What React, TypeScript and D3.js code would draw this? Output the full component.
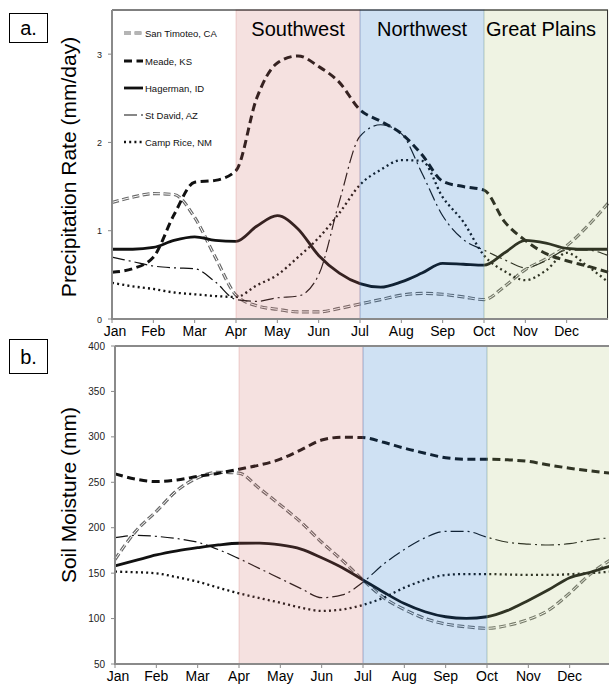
import React from 'react';
import * as d3 from 'd3';

const monthLabels = ['Jan', 'Feb', 'Mar', 'Apr', 'May', 'Jun', 'Jul', 'Aug', 'Sep', 'Oct', 'Nov', 'Dec'];
const monthPos = [0, 0.5, 1, 1.5, 2, 2.5, 3, 3.5, 4, 4.5, 5, 5.5, 6, 6.5, 7, 7.5, 8, 8.5, 9, 9.5, 10, 10.5, 11, 11.5, 12];

const seriesNames = ['San Timoteo, CA', 'Meade, KS', 'Hagerman, ID', 'St David, AZ', 'Camp Rice, NM'];

const precipSanTimoteo = [1.32, 1.38, 1.42, 1.41, 1.15, 0.7, 0.27, 0.15, 0.11, 0.08, 0.08, 0.12, 0.17, 0.22, 0.27, 0.29, 0.28, 0.25, 0.22, 0.37, 0.56, 0.68, 0.83, 1.05, 1.31];
const precipMeade = [0.53, 0.57, 0.7, 1.18, 1.55, 1.57, 1.68, 2.5, 2.9, 2.98, 2.86, 2.68, 2.37, 2.24, 2.1, 1.86, 1.56, 1.5, 1.46, 1.1, 0.89, 0.74, 0.66, 0.6, 0.53];
const precipHagerman = [0.79, 0.79, 0.81, 0.89, 0.93, 0.89, 0.88, 1.05, 1.17, 1.02, 0.72, 0.52, 0.4, 0.36, 0.42, 0.52, 0.63, 0.62, 0.61, 0.75, 0.89, 0.86, 0.8, 0.79, 0.79];
const precipStDavid = [0.7, 0.65, 0.6, 0.58, 0.57, 0.42, 0.22, 0.2, 0.24, 0.26, 0.5, 1.33, 2.07, 2.2, 2.1, 1.65, 1.17, 0.9, 0.78, 0.67, 0.58, 0.66, 0.78, 0.78, 0.72];
const precipCampRice = [0.41, 0.37, 0.34, 0.3, 0.28, 0.26, 0.25, 0.38, 0.5, 0.7, 0.92, 1.2, 1.52, 1.69, 1.8, 1.79, 1.38, 1.1, 0.72, 0.54, 0.44, 0.55, 0.75, 0.6, 0.42];

const soilSanTimoteo = [165, 196, 218, 241, 255, 261, 260, 243, 225, 206, 184, 164, 142.5, 123, 110, 100, 94, 91, 89.3, 92.5, 99, 109.5, 128, 149, 165];
const soilMeade = [259.3, 253.5, 250.8, 252.5, 256.5, 260, 264.4, 269, 275.4, 285.7, 296.5, 299.6, 299.2, 294, 287.5, 282, 277, 275.4, 275.4, 274.7, 273, 269, 265.5, 262.5, 260];
const soilHagerman = [158, 164, 170, 174.5, 178, 181, 182.9, 183, 181, 176.5, 167, 156, 142.5, 129, 116.5, 107.5, 102, 100.3, 102, 109, 120, 132, 145, 151, 158];
const soilStDavid = [189, 191.5, 190.5, 188, 184, 176, 166, 155, 144, 133, 123, 126, 140, 160, 176, 189, 196, 196, 189.5, 184, 182, 181, 182.5, 186.5, 189];
const soilCampRice = [151.7, 151, 149.8, 145.5, 140.6, 134, 127.8, 122.5, 117.5, 112, 108.4, 110, 115, 123, 134, 142.5, 148, 149, 149, 148.5, 148, 148, 148.8, 150, 151.7];

const precipTicks = [0, 1, 2, 3];
const soilTicks = [50, 100, 150, 200, 250, 300, 350, 400];

const regions = [
  { name: 'Southwest', from: 3, to: 6, color: 'rgb(205,105,100)' },
  { name: 'Northwest', from: 6, to: 9, color: 'rgb(15,105,195)' },
  { name: 'Great Plains', from: 9, to: 12, color: 'rgb(175,195,115)' },
];

type Style = { kind: 'double' | 'dash' | 'solid' | 'dashdot' | 'dot' };
const styles: Style[] = [
  { kind: 'double' },
  { kind: 'dash' },
  { kind: 'solid' },
  { kind: 'dashdot' },
  { kind: 'dot' },
];

function SeriesPath({ d, kind }: { d: string; kind: string }) {
  if (kind === 'double') {
    return (
      <g>
        <path d={d} fill="none" stroke="#6a6a6a" strokeWidth={3.2} strokeDasharray="7,3.5" />
        <path d={d} fill="none" stroke="#ffffff" strokeWidth={1} strokeDasharray="7,3.5" />
      </g>
    );
  }
  if (kind === 'dash') return <path d={d} fill="none" stroke="#111" strokeWidth={3} strokeDasharray="8,4.5" />;
  if (kind === 'solid') return <path d={d} fill="none" stroke="#111" strokeWidth={2.8} />;
  if (kind === 'dashdot') return <path d={d} fill="none" stroke="#111" strokeWidth={1.2} strokeDasharray="13,4,2,4" />;
  return <path d={d} fill="none" stroke="#111" strokeWidth={2.3} strokeDasharray="2,3.2" />;
}

function Panel({
  x0, x1, y0, y1, domain, ticks, series, showRegionNames, tickFont, labelBaseline, axisColor, topColor, rightBorder,
}: any) {
  const x = d3.scaleLinear().domain([0, 12]).range([x0, x1]);
  const y = d3.scaleLinear().domain(domain).range([y1, y0]);
  const line = d3.line<number>().x((_, i) => x(monthPos[i])).y((v) => y(v)).curve(d3.curveMonotoneX);
  return (
    <g>
      {series.map((vals: number[], i: number) => (
        <SeriesPath key={i} d={line(vals) as string} kind={styles[i].kind} />
      ))}
      {regions.map((r) => (
        <rect
          key={r.name}
          x={x(r.from)}
          y={y0}
          width={x(r.to) - x(r.from)}
          height={y1 - y0}
          fill={r.color}
          fillOpacity={0.2}
          stroke={r.color}
          strokeOpacity={0.25}
          strokeWidth={1}
        />
      ))}
      {showRegionNames &&
        regions.map((r, i) => (
          <text
            key={r.name}
            x={i === 2 ? x(r.from) + 2 : (x(r.from) + x(r.to)) / 2}
            y={36}
            textAnchor={i === 2 ? 'start' : 'middle'}
            fontFamily="Liberation Sans, Arial, sans-serif"
            fontSize={20}
            fill="#000"
          >
            {r.name}
          </text>
        ))}
      {/* frame */}
      <line x1={x0} x2={x1} y1={y0} y2={y0} stroke={topColor} strokeWidth={topColor === '#000' ? 1 : 2} />
      {rightBorder && <line x1={x1 - 0.5} x2={x1 - 0.5} y1={y0} y2={y1} stroke="#333" strokeWidth={1} />}
      <line x1={x0} x2={x1} y1={y1} y2={y1} stroke={axisColor} strokeWidth={2} />
      <line x1={x0} x2={x0} y1={y0} y2={y1 + 1} stroke={axisColor} strokeWidth={2} />
      {ticks.map((t: number) => (
        <g key={t}>
          <line x1={x0 - 4} x2={x0} y1={y(t)} y2={y(t)} stroke={axisColor} strokeWidth={1} />
          <text
            x={x0 - 10}
            y={y(t) + 3.5}
            textAnchor="end"
            fontFamily="Liberation Sans, Arial, sans-serif"
            fontSize={tickFont}
            fill="#222"
          >
            {t}
          </text>
        </g>
      ))}
      {monthLabels.map((m, i) => (
        <g key={m}>
          <line x1={x(i)} x2={x(i)} y1={y1} y2={y1 + 4} stroke={axisColor} strokeWidth={1} />
          <text
            x={x(i) + (i === 0 ? 3 : 0)}
            y={labelBaseline}
            textAnchor="middle"
            fontFamily="Liberation Sans, Arial, sans-serif"
            fontSize={14}
            fill="#000"
          >
            {m}
          </text>
        </g>
      ))}
    </g>
  );
}

function Legend() {
  const ys = [33, 61, 88, 115, 142];
  return (
    <g>
      {seriesNames.map((n, i) => {
        const d = `M124,${ys[i]}L143,${ys[i]}`;
        return (
          <g key={n}>
            <SeriesPath d={d} kind={styles[i].kind} />
            <text x={145} y={ys[i] + 3.5} fontFamily="Liberation Sans, Arial, sans-serif" fontSize={9.5} fill="#111">
              {n}
            </text>
          </g>
        );
      })}
    </g>
  );
}

export default function App() {
  return (
    <svg
      width={609}
      height={684}
      style={{ position: 'absolute', left: 0, top: 0, display: 'block', background: '#fff' }}
    >
      <rect x={0} y={0} width={609} height={684} fill="#fff" />
      <Panel
        x0={112}
        x1={608}
        y0={10}
        y1={319}
        domain={[0, 3.5]}
        ticks={precipTicks}
        series={[precipSanTimoteo, precipMeade, precipHagerman, precipStDavid, precipCampRice]}
        showRegionNames={true}
        tickFont={9}
        labelBaseline={336}
        axisColor="#8a8a8a"
        topColor="#000"
        rightBorder={true}
      />
      <Legend />
      <Panel
        x0={115}
        x1={611}
        y0={346}
        y1={664}
        domain={[50, 400]}
        ticks={soilTicks}
        series={[soilSanTimoteo, soilMeade, soilHagerman, soilStDavid, soilCampRice]}
        showRegionNames={false}
        tickFont={10}
        labelBaseline={681}
        axisColor="#8a8a8a"
        topColor="#8a8a8a"
        rightBorder={false}
      />
      <text
        transform="translate(76,167) rotate(-90)"
        textAnchor="middle"
        fontFamily="Liberation Sans, Arial, sans-serif"
        fontSize={21}
        fill="#000"
      >
        Precipitation Rate (mm/day)
      </text>
      <text
        transform="translate(76,495) rotate(-90)"
        textAnchor="middle"
        fontFamily="Liberation Sans, Arial, sans-serif"
        fontSize={21}
        fill="#000"
      >
        Soil Moisture (mm)
      </text>
      <rect x={9.5} y={13.5} width={38} height={29} fill="#fff" stroke="#000" strokeWidth={1} />
      <text x={28.5} y={35} textAnchor="middle" fontFamily="Liberation Sans, Arial, sans-serif" fontSize={20}>
        a.
      </text>
      <rect x={9.5} y={339.5} width={38} height={34} fill="#fff" stroke="#000" strokeWidth={1} />
      <text x={28.5} y={364} textAnchor="middle" fontFamily="Liberation Sans, Arial, sans-serif" fontSize={20}>
        b.
      </text>
    </svg>
  );
}
